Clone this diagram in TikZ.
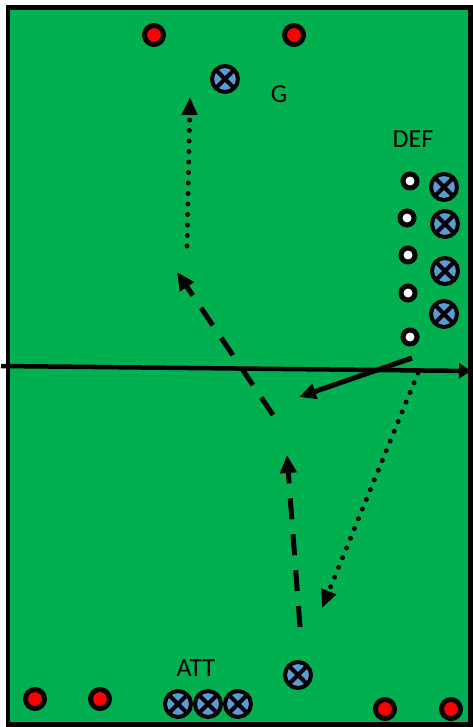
\documentclass[tikz,border=0pt]{standalone}
\usepackage{fontspec}
\setmainfont{Carlito}
\usetikzlibrary{arrows.meta}
\definecolor{field}{HTML}{00B050}
\definecolor{pblue}{HTML}{5B9BD5}
\tikzset{
  cone/.style={circle,draw=black,line width=5pt,fill=red,minimum size=19pt,inner sep=0pt},
  wdot/.style={circle,draw=black,line width=5pt,fill=white,minimum size=14pt,inner sep=0pt},
  player/.style={circle,draw=black,line width=4pt,fill=pblue,minimum size=26pt,inner sep=0pt,
    path picture={\draw[black,line width=4pt]
      (path picture bounding box.south west) -- (path picture bounding box.north east)
      (path picture bounding box.north west) -- (path picture bounding box.south east);}},
  lbl/.style={font=\fontsize{26}{30}\selectfont,inner sep=0pt},
  dotarrow/.style={line width=5pt,line cap=round,dash pattern=on 0pt off 10.5pt,
    -{Triangle[length=18pt,width=15pt]}},
  dasharrow/.style={line width=5pt,dash pattern=on 21pt off 15pt,
    -{Triangle[length=18pt,width=16pt]}},
  solidarrow/.style={line width=5pt,-{Triangle[length=17pt,width=15pt]}},
}
\begin{document}
\begin{tikzpicture}[x=1pt,y=-1pt]
\useasboundingbox (0,0) rectangle (473,727);
\fill[white] (0,0) rectangle (473,727);
\draw[fill=field,line width=4.5pt] (8,7.5) rectangle (470.5,724.5);
% cones
\node[cone] (c1) at (154,35) {};
\node[cone] (c2) at (294,35) {};
\node[cone] (c3) at (35,699) {};
\node[cone] (c4) at (100,699) {};
\node[cone] (c5) at (385,709) {};
\node[cone] (c6) at (451,709) {};
% goalkeeper
\node[player] (g) at (225,79) {};
\node[lbl] (gl) at (279,94) {G};
% defenders
\node[lbl] (defl) at (413,139) {DEF};
\node[player] (d1) at (444,187) {};
\node[player] (d2) at (445,224) {};
\node[player] (d3) at (445,271) {};
\node[player] (d4) at (444,314) {};
\node[wdot] (w1) at (410,181) {};
\node[wdot] (w2) at (407,218) {};
\node[wdot] (w3) at (408,255) {};
\node[wdot] (w4) at (408,293) {};
\node[wdot] (w5) at (410,337) {};
% attackers
\node[lbl] (attl) at (196,668) {ATT};
\node[player] (a1) at (178,704) {};
\node[player] (a2) at (208,704) {};
\node[player] (a3) at (238,704) {};
\node[player] (a4) at (298,675) {};
% arrow end points
\coordinate (hl) at (1,366);
\coordinate (hr) at (471,371);
\coordinate (v1s) at (187,246);
\coordinate (v1e) at (190,97);
\coordinate (dsh1s) at (273,415);
\coordinate (dsh1e) at (177,272);
\coordinate (sol1s) at (412,358);
\coordinate (sol1e) at (299,397);
\coordinate (dot2s) at (418,373);
\coordinate (dot2e) at (322,608);
\coordinate (dsh2s) at (300,627);
\coordinate (dsh2e) at (287,455);
% halfway line
\draw[line width=4.5pt,-{Triangle[length=12pt,width=15pt]}] (hl) -- (hr);
% runs
\draw[dotarrow] (v1s) -- (v1e);
\draw[dasharrow] (dsh1s) -- (dsh1e);
\draw[solidarrow] (sol1s) -- (sol1e);
\draw[dotarrow] (dot2s) -- (dot2e);
\draw[dasharrow] (dsh2s) -- (dsh2e);
\end{tikzpicture}
\end{document}
